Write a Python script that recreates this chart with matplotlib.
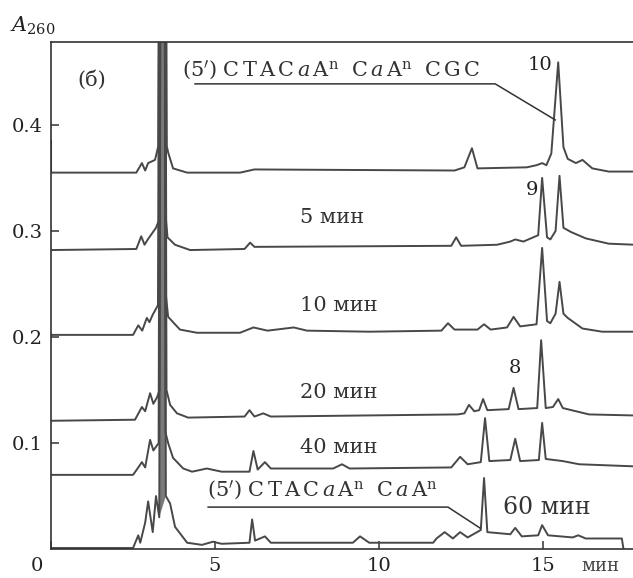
import matplotlib
matplotlib.use('Agg')
import matplotlib.pyplot as plt
from matplotlib.transforms import ScaledTranslation

plt.rcParams['font.family'] = ['DejaVu Serif']
plt.rcParams['mathtext.fontset'] = 'dejavuserif'

# chromatogram traces: time (min), A260
t_0 = [0, 0, 2.6, 2.77, 2.87, 2.96, 3.17, 3.27, 3.40, 3.53, 3.57, 3.72, 4.15, 5.76, 6.2,
       12.3, 12.6, 12.83, 13.0, 14.5, 14.8, 14.97, 15.1, 15.25, 15.46, 15.62, 15.75, 16.0,
       16.2, 16.5, 17.0, 17.8]
a_0 = [0.385, 0.355, 0.355, 0.364, 0.357, 0.364, 0.367, 0.38, 1.6, 0.38, 0.374, 0.359, 0.355,
       0.355, 0.358, 0.357, 0.360, 0.378, 0.359, 0.360, 0.362, 0.364, 0.362, 0.373, 0.459,
       0.379, 0.368, 0.364, 0.367, 0.359, 0.356, 0.356]

t_5 = [0, 2.6, 2.75, 2.85, 2.95, 3.2, 3.29, 3.40, 3.51, 3.55, 3.78, 4.24, 5.9, 6.07, 6.2,
       12.2, 12.35, 12.5, 13.6, 14.0, 14.15, 14.4, 14.85, 14.97, 15.12, 15.22, 15.38, 15.5,
       15.62, 15.85, 16.3, 17.0, 17.8]
a_5 = [0.282, 0.283, 0.295, 0.287, 0.292, 0.303, 0.31, 1.6, 0.31, 0.294, 0.287, 0.282, 0.283,
       0.289, 0.285, 0.286, 0.294, 0.286, 0.287, 0.290, 0.292, 0.290, 0.296, 0.350, 0.294,
       0.292, 0.300, 0.352, 0.303, 0.299, 0.293, 0.288, 0.287]

t_10 = [0, 2.5, 2.66, 2.78, 2.92, 3.0, 3.1, 3.26, 3.40, 3.50, 3.57, 3.93, 4.45, 5.76, 6.17,
        6.6, 7.4, 7.8, 9.7, 11.9, 12.1, 12.3, 13.0, 13.2, 13.4, 13.9, 14.1, 14.3, 14.8,
        14.97, 15.12, 15.22, 15.38, 15.5, 15.62, 15.75, 16.2, 16.8, 17.8]
a_10 = [0.202, 0.202, 0.211, 0.206, 0.218, 0.214, 0.221, 0.23, 1.6, 0.24, 0.219, 0.207, 0.204,
        0.204, 0.209, 0.206, 0.209, 0.206, 0.205, 0.206, 0.213, 0.207, 0.207, 0.212, 0.207,
        0.209, 0.219, 0.210, 0.212, 0.284, 0.215, 0.213, 0.222, 0.252, 0.222, 0.218, 0.208,
        0.205, 0.205]

t_20 = [0, 2.56, 2.77, 2.87, 3.02, 3.12, 3.23, 3.31, 3.40, 3.52, 3.63, 3.84, 4.18, 5.9, 6.05,
        6.2, 6.47, 6.7, 12.4, 12.6, 12.74, 12.9, 13.05, 13.17, 13.3, 13.95, 14.1, 14.25,
        14.82, 14.94, 15.08, 15.3, 15.46, 15.6, 16.4, 17.8]
a_20 = [0.121, 0.122, 0.134, 0.130, 0.147, 0.137, 0.143, 0.15, 1.6, 0.15, 0.136, 0.128, 0.124,
        0.125, 0.131, 0.125, 0.128, 0.125, 0.127, 0.128, 0.136, 0.130, 0.131, 0.1415, 0.131,
        0.132, 0.152, 0.132, 0.133, 0.197, 0.133, 0.134, 0.1415, 0.133, 0.127, 0.126]

t_40 = [0, 2.5, 2.66, 2.77, 2.87, 3.02, 3.12, 3.28, 3.40, 3.49, 3.57, 3.72, 4.03, 4.3, 4.75,
        5.2, 6.05, 6.17, 6.3, 6.52, 6.7, 8.6, 8.87, 9.1, 12.2, 12.47, 12.7, 13.1, 13.23,
        13.36, 14.0, 14.15, 14.3, 14.87, 14.97, 15.08, 15.6, 16.1, 17.8]
a_40 = [0.070, 0.070, 0.077, 0.082, 0.077, 0.103, 0.093, 0.10, 1.6, 0.11, 0.100, 0.086, 0.076,
        0.073, 0.076, 0.073, 0.073, 0.0925, 0.075, 0.082, 0.076, 0.076, 0.080, 0.076, 0.077,
        0.087, 0.080, 0.082, 0.1235, 0.083, 0.084, 0.104, 0.083, 0.084, 0.119, 0.085, 0.083,
        0.080, 0.078]

t_60 = [0, 2.5, 2.66, 2.72, 2.87, 2.96, 3.1, 3.2, 3.3, 3.40, 3.5, 3.63, 3.78, 4.15, 4.6, 4.94,
        5.06, 5.2, 6.05, 6.13, 6.22, 6.52, 6.7, 9.2, 9.42, 9.7, 11.65, 11.75, 12.0, 12.25,
        12.47, 12.7, 13.1, 13.2, 13.3, 14.0, 14.15, 14.35, 14.85, 14.97, 15.15, 15.9, 16.07,
        16.3, 17.4, 17.45]
a_60 = [0.001, 0.001, 0.013, 0.006, 0.025, 0.045, 0.016, 0.05, 0.03, 1.6, 0.05, 0.043, 0.021,
        0.006, 0.004, 0.007, 0.006, 0.005, 0.006, 0.028, 0.008, 0.012, 0.006, 0.006, 0.012,
        0.006, 0.006, 0.010, 0.016, 0.010, 0.016, 0.011, 0.018, 0.067, 0.016, 0.014, 0.020,
        0.012, 0.013, 0.0226, 0.013, 0.011, 0.013, 0.010, 0.010, 0.0]

traces = [(t_0, a_0), (t_5, a_5), (t_10, a_10), (t_20, a_20), (t_40, a_40), (t_60, a_60)]
time_labels = ['5 мин', '10 мин', '20 мин', '40 мин']
time_label_y = [0.313, 0.230, 0.148, 0.096]

fig = plt.figure(figsize=(6.33, 5.78), dpi=100)
ax = fig.add_axes([0.0806, 0.050, 0.9194, 0.877])

for t, a in traces:
    ax.plot(t, a, color='#484848', lw=1.4)
    # the off-scale solvent peak prints as a solid grey band
    k = a.index(max(a))
    ax.fill(t[k - 1:k + 2], a[k - 1:k + 2], color='#7a7a7a', lw=0)

ax.set_xlim(0, 17.74)
ax.set_ylim(0, 0.478)
ax.spines['right'].set_visible(False)
for s in ['left', 'bottom', 'top']:
    ax.spines[s].set_color('#333333')
    ax.spines[s].set_linewidth(1.2)

ax.set_xticks([0, 5, 10, 15])
ax.set_xticklabels(['0', '5', '10', '15'])
ax.set_yticks([0.1, 0.2, 0.3, 0.4])
ax.set_yticklabels(['0.1', '0.2', '0.3', '0.4'])
ax.tick_params(direction='in', length=6, width=1.1, color='#333333',
               labelsize=14, labelcolor='#222222')
ax.tick_params(axis='x', pad=6)
ax.tick_params(axis='y', pad=6)
lab0 = ax.get_xticklabels()[0]
lab0.set_transform(lab0.get_transform() + ScaledTranslation(-0.14, 0, fig.dpi_scale_trans))

fig.text(0.052, 0.955, r'$A_{260}$', fontsize=15, ha='center', va='center', color='#222222')
ax.text(16.75, -0.016, 'мин', fontsize=13, ha='center', va='center', color='#444444',
        clip_on=False)

txt = dict(color='#333333', fontsize=15)
seq_long = (r"$\mathrm{(5')}\ \mathrm{C}\,\mathrm{T}\,\mathrm{A}\,\mathrm{C}\,\mathit{a}\,"
            r"\mathrm{A}^{\mathrm{n}}\ \ \mathrm{C}\,\mathit{a}\,\mathrm{A}^{\mathrm{n}}\ \ "
            r"\mathrm{C}\,\mathrm{G}\,\mathrm{C}$")
seq_short = (r"$\mathrm{(5')}\ \mathrm{C}\,\mathrm{T}\,\mathrm{A}\,\mathrm{C}\,\mathit{a}\,"
             r"\mathrm{A}^{\mathrm{n}}\ \ \mathrm{C}\,\mathit{a}\,\mathrm{A}^{\mathrm{n}}$")

ax.text(1.25, 0.442, '(б)', ha='center', va='center', **txt)
ax.text(4.0, 0.452, seq_long, ha='left', va='center', **txt)
ax.plot([4.39, 13.54, 15.37], [0.4387, 0.4387, 0.4047], color='#333333', lw=1.1)
ax.text(14.9, 0.4566, '10', ha='center', va='center', color='#222222', fontsize=14)
ax.text(14.66, 0.339, '9', ha='center', va='center', color='#222222', fontsize=14)
ax.text(14.15, 0.171, '8', ha='center', va='center', color='#222222', fontsize=14)
for lab, y in zip(time_labels, time_label_y):
    ax.text(7.6, y, lab, ha='left', va='center', **txt)
ax.text(4.75, 0.0557, seq_short, ha='left', va='center', **txt)
ax.plot([4.79, 12.1, 13.08], [0.0396, 0.0396, 0.0198], color='#333333', lw=1.1)
ax.text(13.78, 0.0396, '60 мин', ha='left', va='center', color='#333333', fontsize=17)

fig.savefig('out.png', dpi=100)
